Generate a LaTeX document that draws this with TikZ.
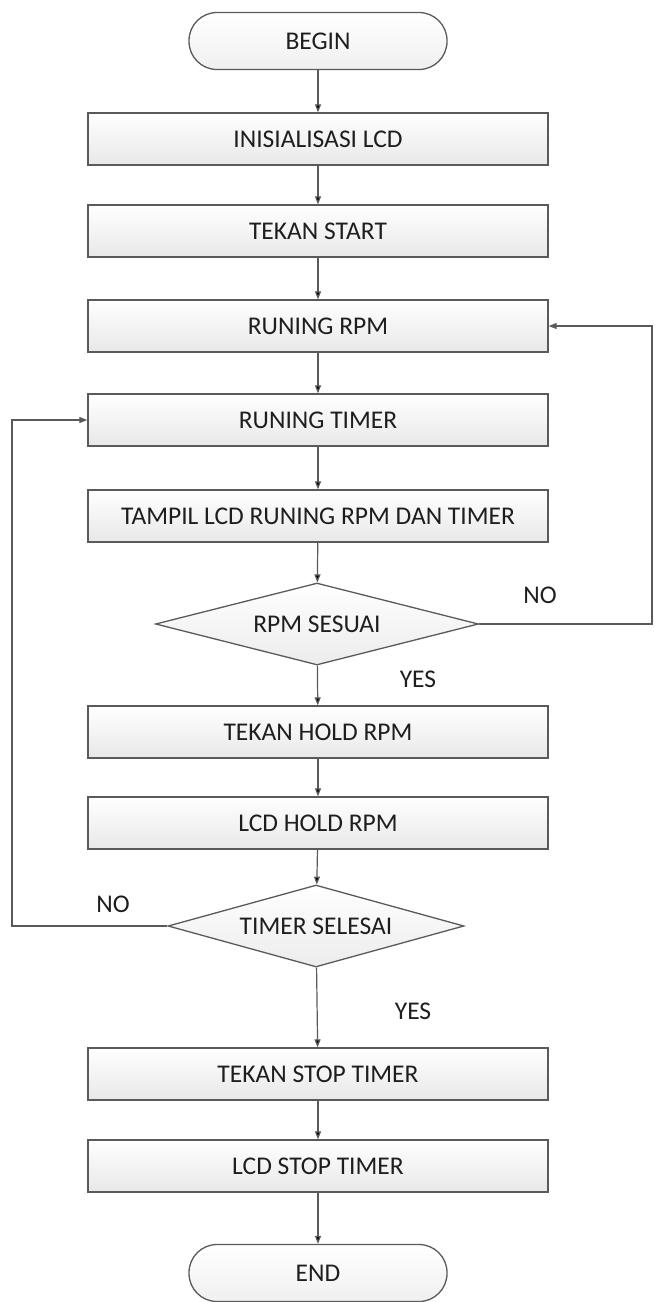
\documentclass[tikz,border=0pt]{standalone}
\usepackage{fontspec}
\setmainfont{Carlito}
\usetikzlibrary{shapes.geometric,arrows.meta}
\definecolor{lineg}{HTML}{5A5A5A}
\definecolor{textg}{HTML}{1E1E1E}
\tikzset{
  txt/.style={font=\fontsize{25.5}{29}\selectfont,text=textg},
  procbox/.style={txt,rectangle,draw=lineg,line width=1.3pt,top color=white,
    bottom color=gray!18,minimum width=460pt,minimum height=52pt,inner sep=0pt},
  termbox/.style={txt,rectangle,rounded corners=28pt,draw=lineg,line width=1.3pt,
    top color=white,bottom color=gray!12,minimum width=258pt,minimum height=57pt,inner sep=0pt},
  decbox/.style={txt,diamond,draw=lineg,line width=1.3pt,top color=white,
    bottom color=gray!15,minimum height=82pt,inner sep=0pt},
  flow/.style={draw=lineg,line width=1.2pt,-{Triangle[length=8pt,width=6pt]}}
}
\begin{document}
\begin{tikzpicture}[x=1pt,y=-1pt]
	\useasboundingbox (0,0) rectangle (654,1302);
	% main column
	\node[termbox] (begin) at (318,41) {BEGIN};
	\node[procbox] (init) at (318,139) {INISIALISASI LCD};
	\node[procbox] (start) at (318,231) {TEKAN START};
	\node[procbox] (rpm) at (318,326) {RUNING RPM};
	\node[procbox] (timer) at (318,420) {RUNING TIMER};
	\node[procbox] (tampil) at (318,516) {TAMPIL LCD RUNING RPM DAN TIMER};
	\node[decbox,aspect=3.94,minimum width=323pt] (sesuai) at (317,624) {RPM SESUAI};
	\node[procbox] (hold) at (318,732) {TEKAN HOLD RPM};
	\node[procbox] (lcdhold) at (318,823) {LCD HOLD RPM};
	\node[decbox,aspect=3.6,minimum width=296pt] (selesai) at (316,926) {TIMER SELESAI};
	\node[procbox] (stop) at (318,1074) {TEKAN STOP TIMER};
	\node[procbox] (lcdstop) at (318,1166) {LCD STOP TIMER};
	\node[termbox] (end) at (318,1273) {END};
	% labels
	\node[txt] (noA) at (540,595) {NO};
	\node[txt] (yesA) at (418,679) {YES};
	\node[txt] (noB) at (113,904) {NO};
	\node[txt] (yesB) at (413,1011) {YES};
	% loop corners
	\coordinate (rloop) at (652,624);
	\coordinate (lloop) at (12,926);
	\path[flow]
	(begin) edge (init)
	(init) edge (start)
	(start) edge (rpm)
	(rpm) edge (timer)
	(timer) edge (tampil)
	(tampil) edge (sesuai)
	(sesuai) edge (hold)
	(hold) edge (lcdhold)
	(lcdhold) edge (selesai)
	(selesai) edge (stop)
	(stop) edge (lcdstop)
	(lcdstop) edge (end);
	\draw[flow] (sesuai) -- (rloop) |- (rpm);
	\draw[flow] (selesai) -- (lloop) |- (timer);
\end{tikzpicture}
\end{document}
